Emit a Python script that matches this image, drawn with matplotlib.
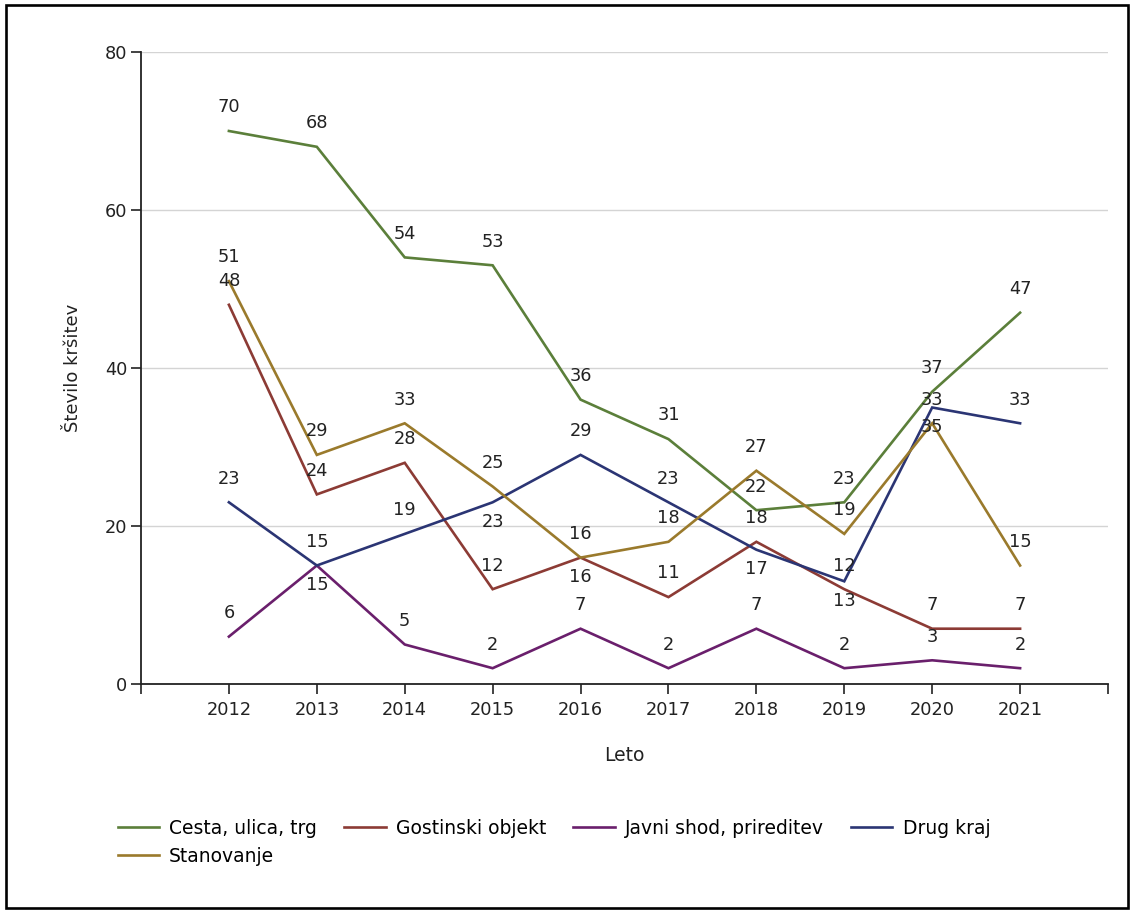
#!/usr/bin/env python3
import matplotlib
matplotlib.use('Agg')
import matplotlib.pyplot as plt
from matplotlib.patches import Rectangle

years = [2012, 2013, 2014, 2015, 2016, 2017, 2018, 2019, 2020, 2021]

cesta = [70, 68, 54, 53, 36, 31, 22, 23, 37, 47]
gostinski = [48, 24, 28, 12, 16, 11, 18, 12, 7, 7]
javni = [6, 15, 5, 2, 7, 2, 7, 2, 3, 2]
drug = [23, 15, 19, 23, 29, 23, 17, 13, 35, 33]
stanovanje = [51, 29, 33, 25, 16, 18, 27, 19, 33, 15]

names = ['Cesta, ulica, trg', 'Gostinski objekt', 'Javni shod, prireditev',
         'Drug kraj', 'Stanovanje']
colors = ['#5b7f3a', '#8c3b35', '#6a1f6c', '#2b3574', '#9a7a2c']

# labels that sit under their point instead of above (series index, year)
below = {(2, 2013), (3, 2015), (1, 2016), (3, 2018), (3, 2019), (3, 2020)}

plt.rcParams['font.family'] = ['DejaVu Sans']
W, H = 1134, 913

fig = plt.figure(figsize=(W / 100, H / 100), dpi=100)
ax = fig.add_axes([141 / W, 1 - 684 / H, (1108 - 141) / W, (684 - 52) / H])

series = [cesta, gostinski, javni, drug, stanovanje]
lines = []
for i, (vals, name, col) in enumerate(zip(series, names, colors)):
    ln, = ax.plot(years, vals, color=col, lw=1.9, label=name, solid_joinstyle='miter')
    lines.append(ln)
    for x, y in zip(years, vals):
        dy = -14 if (i, x) in below else 17
        ax.annotate(str(y), (x, y), xytext=(0, dy), textcoords='offset points',
                    ha='center', va='center', fontsize=12.8, color='#222222')

ax.set_xlim(2011, 2022)
ax.set_ylim(0, 80)
ax.set_xticks(range(2011, 2023))
ax.set_xticklabels([''] + [str(y) for y in years] + [''])
ax.set_yticks([0, 20, 40, 60, 80])
ax.tick_params(axis='both', labelsize=12.8, colors='#222222', length=7, width=1.2)
ax.tick_params(axis='x', pad=5)
ax.tick_params(axis='y', pad=3)
ax.grid(axis='y', color='#d4d4d4', lw=1)
ax.set_axisbelow(True)
for s in ['top', 'right']:
    ax.spines[s].set_visible(False)
for s in ['left', 'bottom']:
    ax.spines[s].set_linewidth(1.3)
    ax.spines[s].set_color('#222222')

ax.set_xlabel('Leto', fontsize=13.5, labelpad=20, color='#222222')
ax.set_ylabel('Število kršitev', fontsize=13, labelpad=16, color='#222222')

# row-major order for a 4-column legend: Stanovanje goes under Cesta
order = [0, 4, 1, 2, 3]
fig.legend([lines[k] for k in order], [names[k] for k in order],
           loc='upper left', bbox_to_anchor=(112 / W, 1 - 813 / H), ncol=4,
           frameon=False, fontsize=13.5, handlelength=2.2, handletextpad=0.55,
           columnspacing=1.45, labelspacing=0.5, borderaxespad=0, borderpad=0.3)

fig.patches.append(Rectangle((6 / W, 5.5 / H), 1 - 12 / W, 1 - 11 / H,
                             transform=fig.transFigure, fill=False, ec='black', lw=1.9))

fig.savefig('out.png', dpi=100)
